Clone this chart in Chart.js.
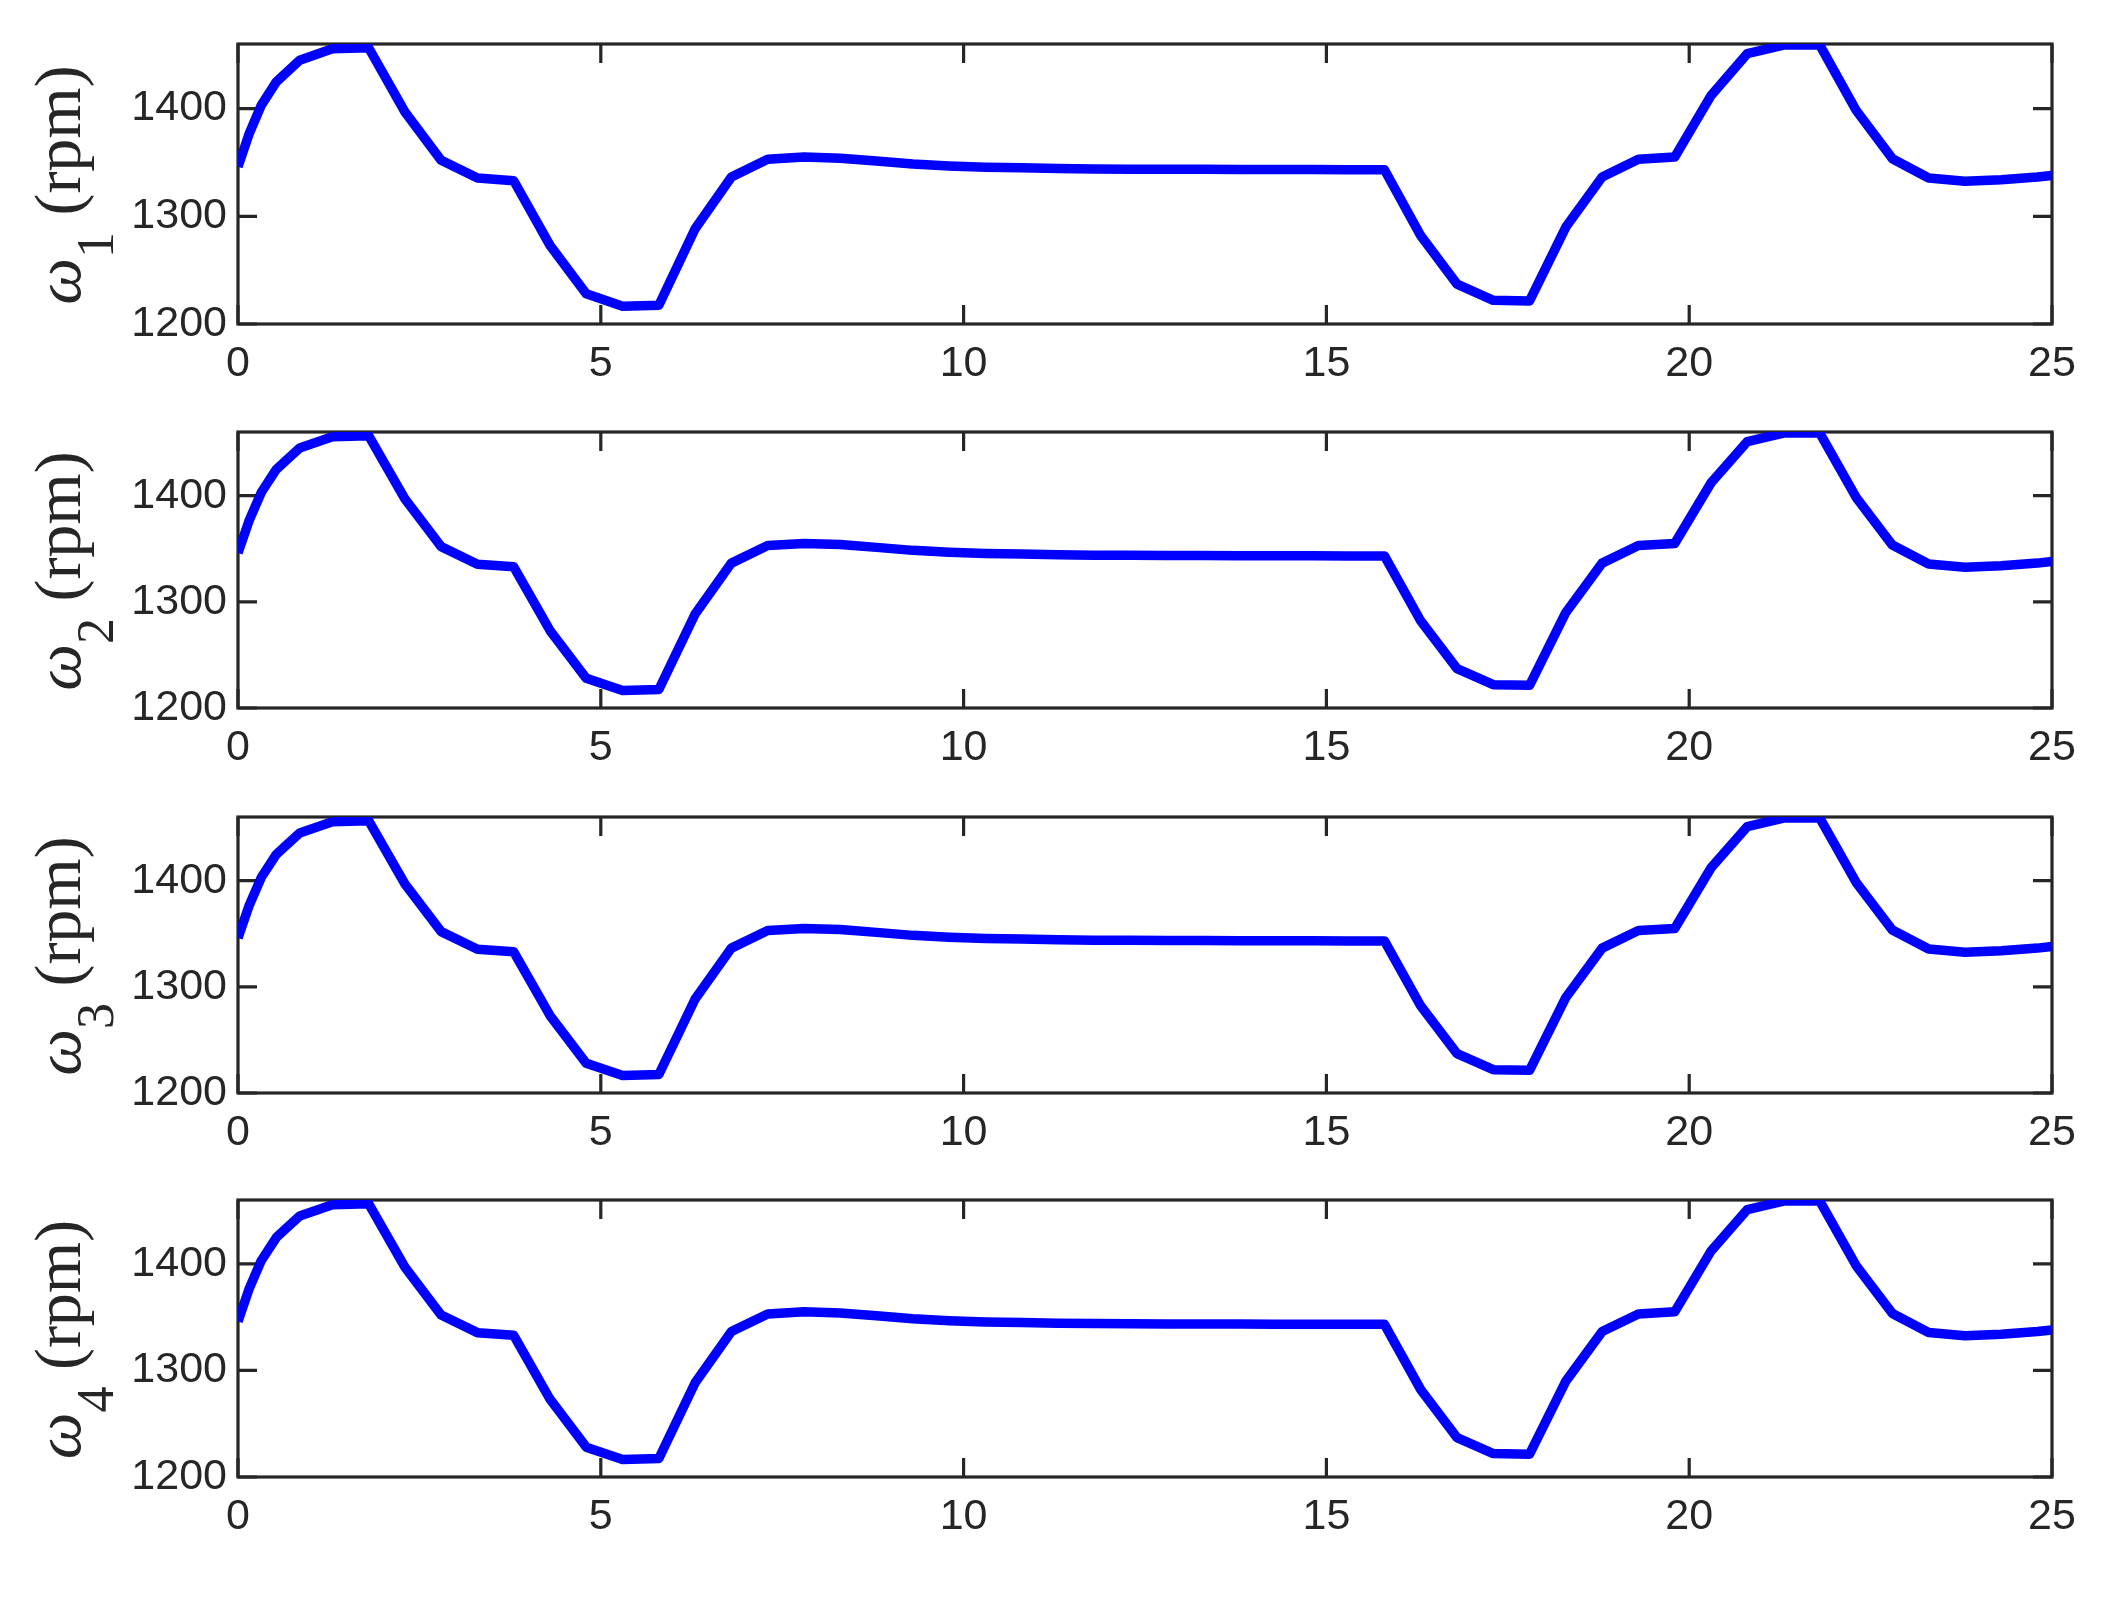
<!DOCTYPE html>
<html><head><meta charset="utf-8">
<script src="https://cdn.jsdelivr.net/npm/chart.js@4.4.0/dist/chart.umd.min.js"></script>
<style>
html,body{margin:0;padding:0;background:#fff;width:2103px;height:1598px;overflow:hidden;}
canvas{position:absolute;left:0;display:block;}
</style></head><body>
<canvas id="c0"></canvas><canvas id="c1"></canvas><canvas id="c2"></canvas><canvas id="c3"></canvas>
<script>
// ---- data ----
const time = [0, 0.15, 0.32, 0.53, 0.85, 1.3, 1.8, 2.3, 2.8, 3.3, 3.8, 4.3, 4.8, 5.3, 5.8, 6.3, 6.8, 7.3, 7.8, 8.3, 8.8, 9.3, 9.8, 10.3, 10.8, 11.3, 11.8, 12.3, 12.8, 13.3, 13.8, 14.3, 14.8, 15.3, 15.8, 16.3, 16.8, 17.3, 17.8, 18.3, 18.8, 19.3, 19.8, 20.3, 20.8, 21.3, 21.8, 22.3, 22.8, 23.3, 23.8, 24.3, 24.8, 25];
const omega1 = [1346, 1376, 1403, 1425, 1445, 1455.5, 1456.5, 1397, 1352, 1335.5, 1333, 1273, 1228, 1216.5, 1217.4, 1288.5, 1336.5, 1353, 1355, 1354, 1351.3, 1348.5, 1346.7, 1345.6, 1345, 1344.3, 1344, 1343.8, 1343.7, 1343.6, 1343.5, 1343.4, 1343.4, 1343.3, 1343.3, 1282, 1237, 1222, 1221.4, 1290, 1336.5, 1353, 1355, 1412, 1451, 1459, 1459, 1398.5, 1353.5, 1335.6, 1332.5, 1334, 1336.5, 1338];
const omega2 = [1346, 1376, 1403, 1425, 1445, 1455.5, 1456.5, 1397, 1352, 1335.5, 1333, 1273, 1228, 1216.5, 1217.4, 1288.5, 1336.5, 1353, 1355, 1354, 1351.3, 1348.5, 1346.7, 1345.6, 1345, 1344.3, 1344, 1343.8, 1343.7, 1343.6, 1343.5, 1343.4, 1343.4, 1343.3, 1343.3, 1282, 1237, 1222, 1221.4, 1290, 1336.5, 1353, 1355, 1412, 1451, 1459, 1459, 1398.5, 1353.5, 1335.6, 1332.5, 1334, 1336.5, 1338];
const omega3 = [1346, 1376, 1403, 1425, 1445, 1455.5, 1456.5, 1397, 1352, 1335.5, 1333, 1273, 1228, 1216.5, 1217.4, 1288.5, 1336.5, 1353, 1355, 1354, 1351.3, 1348.5, 1346.7, 1345.6, 1345, 1344.3, 1344, 1343.8, 1343.7, 1343.6, 1343.5, 1343.4, 1343.4, 1343.3, 1343.3, 1282, 1237, 1222, 1221.4, 1290, 1336.5, 1353, 1355, 1412, 1451, 1459, 1459, 1398.5, 1353.5, 1335.6, 1332.5, 1334, 1336.5, 1338];
const omega4 = [1346, 1376, 1403, 1425, 1445, 1455.5, 1456.5, 1397, 1352, 1335.5, 1333, 1273, 1228, 1216.5, 1217.4, 1288.5, 1336.5, 1353, 1355, 1354, 1351.3, 1348.5, 1346.7, 1345.6, 1345, 1344.3, 1344, 1343.8, 1343.7, 1343.6, 1343.5, 1343.4, 1343.4, 1343.3, 1343.3, 1282, 1237, 1222, 1221.4, 1290, 1336.5, 1353, 1355, 1412, 1451, 1459, 1459, 1398.5, 1353.5, 1335.6, 1332.5, 1334, 1336.5, 1338];
const xTicks = [0, 5, 10, 15, 20, 25];
const yTicks = [1200, 1300, 1400];
const subscripts = ['1', '2', '3', '4'];
const labelUnit = '(rpm)';

// ---- layout / style ----
const series = [omega1, omega2, omega3, omega4];
const panels = [[44, 324], [432, 708], [817, 1093], [1200, 1477]];
const PAD_TOP = 20, XAXIS_H = 80, YAXIS_W = 238, PAD_RIGHT = 51;
const INK = '#262626';

function makePlugin(idx) {
  return {
    id: 'matlabBox' + idx,
    beforeDatasetsDraw(chart) {
      const {ctx, chartArea: a, scales} = chart;
      ctx.save();
      ctx.strokeStyle = INK;
      ctx.lineWidth = 3.2;
      ctx.strokeRect(a.left, a.top, a.right - a.left, a.bottom - a.top);
      const TL = 19;
      ctx.beginPath();
      xTicks.forEach(v => {
        const px = scales.x.getPixelForValue(v);
        ctx.moveTo(px, a.bottom); ctx.lineTo(px, a.bottom - TL);
        ctx.moveTo(px, a.top); ctx.lineTo(px, a.top + TL);
      });
      yTicks.forEach(v => {
        const py = scales.y.getPixelForValue(v);
        ctx.moveTo(a.left, py); ctx.lineTo(a.left + TL, py);
        ctx.moveTo(a.right, py); ctx.lineTo(a.right - TL, py);
      });
      ctx.stroke();
      ctx.restore();
    },
    afterDraw(chart) {
      const {ctx, chartArea: a} = chart;
      const big = 'italic 66px "Liberation Serif"';
      const reg = '66px "Liberation Serif"';
      const sub = '52px "Liberation Serif"';
      ctx.save();
      ctx.fillStyle = INK;
      ctx.textBaseline = 'alphabetic';
      ctx.textAlign = 'left';
      ctx.font = big; const wO = ctx.measureText('\u03C9').width;
      ctx.font = sub; const wS = ctx.measureText(subscripts[idx]).width;
      ctx.font = reg; const wSp = ctx.measureText(' ').width; const wU = ctx.measureText(labelUnit).width;
      const total = wO + wS + wSp + wU;
      const cy = (a.top + a.bottom) / 2 + 1;
      ctx.translate(80, cy);
      ctx.rotate(-Math.PI / 2);
      let u = -total / 2;
      ctx.font = big; ctx.fillText('\u03C9', u, 0); u += wO;
      ctx.font = sub; ctx.fillText(subscripts[idx], u, 33); u += wS + wSp;
      ctx.font = reg; ctx.fillText(labelUnit, u, 0);
      ctx.restore();
    }
  };
}

Chart.defaults.font.family = '"Liberation Sans", Arial, sans-serif';

function zeroPad(s) { s.paddingTop = 0; s.paddingBottom = 0; s.paddingLeft = 0; s.paddingRight = 0; }

series.forEach((vals, i) => {
  const [T, B] = panels[i];
  const cv = document.getElementById('c' + i);
  const h = (B - T) + PAD_TOP + XAXIS_H;
  cv.width = 2103; cv.height = h;
  cv.style.width = '2103px'; cv.style.height = h + 'px';
  cv.style.top = (T - PAD_TOP) + 'px';
  new Chart(cv, {
    type: 'line',
    data: {
      datasets: [{
        data: time.map((t, k) => ({x: t, y: vals[k]})),
        borderColor: '#0000FF',
        borderWidth: 9.5,
        pointRadius: 0,
        tension: 0,
        fill: false,
        borderJoinStyle: 'round'
      }]
    },
    options: {
      responsive: false,
      animation: false,
      devicePixelRatio: 1,
      layout: {padding: {top: PAD_TOP, right: PAD_RIGHT, bottom: 0, left: 0}},
      plugins: {legend: {display: false}, tooltip: {enabled: false}},
      scales: {
        x: {
          type: 'linear', position: 'bottom', min: 0, max: 25,
          afterBuildTicks: s => { s.ticks = xTicks.map(v => ({value: v})); },
          afterFit: s => { s.height = XAXIS_H; zeroPad(s); },
          grid: {display: false, drawTicks: false},
          border: {display: false},
          ticks: {color: INK, font: {size: 43}, padding: 14, maxRotation: 0, autoSkip: false,
                  callback: v => String(v)}
        },
        y: {
          type: 'linear', position: 'left', min: 1200, max: 1460,
          afterBuildTicks: s => { s.ticks = yTicks.map(v => ({value: v})); },
          afterFit: s => { s.width = YAXIS_W; zeroPad(s); },
          grid: {display: false, drawTicks: false},
          border: {display: false},
          ticks: {color: INK, font: {size: 43}, padding: 11, autoSkip: false,
                  callback: v => String(v)}
        }
      }
    },
    plugins: [makePlugin(i)]
  });
});
</script>
</body></html>
